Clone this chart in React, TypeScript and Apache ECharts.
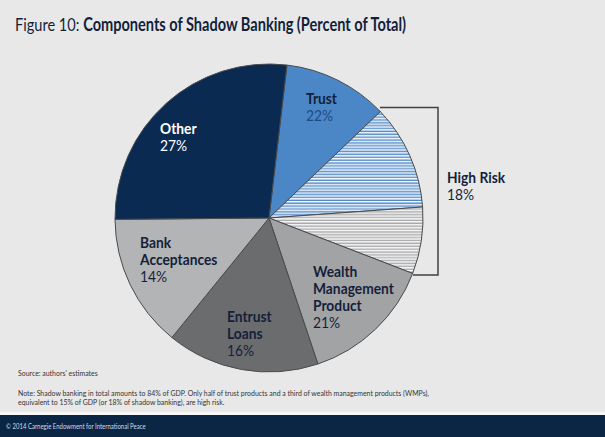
import React, { useEffect, useRef } from "react";
import * as echarts from "echarts";

// ---- data ----
const categories = ["Trust", "Wealth Management Product", "Entrust Loans", "Bank Acceptances", "Other"];
const shares = [22, 21, 16, 14, 27];
// high-risk part of Trust (half) and of WMP (a third)
const highRiskParts = [11, 7];
const highRiskTotal = 18;
const titleLead = "Figure 10: ";
const titleMain = "Components of Shadow Banking (Percent of Total)";
const sourceText = "Source: authors' estimates";
const noteLines = [
  "Note: Shadow banking in total amounts to 84% of GDP. Only half of trust products and a third of wealth management products (WMPs),",
  "equivalent to 15% of GDP (or 18% of shadow banking), are high risk.",
];
const footerText = "\u00a9 2014 Carnegie Endowment for International Peace";

// ---- styles ----
const BG = "#e8e8e8";
const NAVY = "#0b2a52";
const TEXT = "#141f3a";
const colors: Record<string, string> = {
  Trust: "#4b86c7",
  "Wealth Management Product": "#a2a3a5",
  "Entrust Loans": "#6b6c6e",
  "Bank Acceptances": "#b3b4b6",
  Other: NAVY,
};
const labelLines: Record<string, string[]> = {
  Trust: ["Trust"],
  "Wealth Management Product": ["Wealth", "Management", "Product"],
  "Entrust Loans": ["Entrust", "Loans"],
  "Bank Acceptances": ["Bank", "Acceptances"],
  Other: ["Other"],
};
const labelPos: Record<string, [number, number]> = {
  Trust: [306, 90],
  "Wealth Management Product": [313, 263],
  "Entrust Loans": [227, 308],
  "Bank Acceptances": [140, 234],
  Other: [160, 120],
};
const pctColor: Record<string, string> = {
  Trust: "#1d4a86",
  "Wealth Management Product": TEXT,
  "Entrust Loans": TEXT,
  "Bank Acceptances": TEXT,
  Other: "#ffffff",
};
const nameColor: Record<string, string> = {
  Trust: TEXT,
  "Wealth Management Product": TEXT,
  "Entrust Loans": TEXT,
  "Bank Acceptances": TEXT,
  Other: "#ffffff",
};

function stripePattern(color: string): any {
  const c = document.createElement("canvas");
  c.width = 4;
  c.height = 30;
  const ctx = c.getContext("2d")!;
  ctx.fillStyle = color;
  ctx.fillRect(0, 0, 4, 30);
  ctx.fillStyle = "#ffffff";
  for (let k = 0; k < 7; k++) ctx.fillRect(0, (k * 30) / 7, 4, 2.2);
  return {
    type: "pattern",
    image: c.toDataURL(),
    repeat: "repeat",
    imageWidth: 4,
    imageHeight: 30,
    scaleX: 0.67,
    scaleY: 0.67,
  };
}

export default function App() {
  const ref = useRef<HTMLDivElement>(null);
  useEffect(() => {
    document.body.style.margin = "0";
    if (!ref.current) return;
    const chart = echarts.init(ref.current, null, { renderer: "svg" });

    const [trust, wmp, entrust, bank, other] = categories;
    const val = (c: string) => shares[categories.indexOf(c)];
    const border = { borderColor: "#4a4b4d", borderWidth: 1 };
    const pieData = [
      { name: trust + " (other)", value: val(trust) - highRiskParts[0], itemStyle: { color: colors[trust], ...border } },
      { name: trust + " (high risk)", value: highRiskParts[0], itemStyle: { color: stripePattern(colors[trust]), ...border } },
      { name: wmp + " (high risk)", value: highRiskParts[1], itemStyle: { color: stripePattern(colors[wmp]), ...border } },
      { name: wmp + " (other)", value: val(wmp) - highRiskParts[1], itemStyle: { color: colors[wmp], ...border } },
      { name: entrust, value: val(entrust), itemStyle: { color: colors[entrust], ...border } },
      { name: bank, value: val(bank), itemStyle: { color: colors[bank], ...border } },
      { name: other, value: val(other), itemStyle: { color: colors[other], ...border } },
    ];

    const FONT = "Lato";
    const labelGraphics: any[] = categories.map((c, i) => {
      const [x, y] = labelPos[c];
      const lines = labelLines[c].map((l) => `{b|${l}}`).join("\n");
      return {
        type: "text",
        x,
        y,
        z: 100,
        scaleX: 0.92,
        style: {
          text: `${lines}\n{p|${shares[i]}%}`,
          fontFamily: FONT,
          rich: {
            b: { fontSize: 15, fontWeight: "bold", fill: nameColor[c], color: nameColor[c], lineHeight: 17, fontFamily: FONT },
            p: { fontSize: 15, fontWeight: "normal", fill: pctColor[c], color: pctColor[c], lineHeight: 17, fontFamily: FONT },
          },
        },
      };
    });

    chart.setOption({
      animation: false,
      backgroundColor: BG,
      series: [
        {
          type: "pie",
          center: [269, 218],
          radius: [0, 154],
          startAngle: 83.3,
          clockwise: true,
          label: { show: false },
          labelLine: { show: false },
          emphasis: { disabled: true },
          silent: true,
          data: pieData,
        },
      ],
      graphic: [
        {
          type: "text",
          x: 15,
          y: 15,
          z: 100,
          scaleX: 0.81,
          style: {
            text: `{r|${titleLead}}{b|${titleMain}}`,
            rich: {
              r: { fontSize: 18, fontFamily: FONT, fontWeight: "normal", fill: TEXT, color: TEXT },
              b: { fontSize: 18, fontFamily: FONT, fontWeight: "bold", fill: TEXT, color: TEXT },
            },
          },
        },
        ...labelGraphics,
        {
          type: "polyline",
          z: 100,
          shape: { points: [[380, 107.5], [438, 107.5], [438, 275], [413, 275]] },
          style: { stroke: "#3e4043", lineWidth: 1.5, fill: "none" },
        },
        {
          type: "text",
          x: 447,
          y: 169,
          z: 100,
          scaleX: 0.92,
          style: {
            text: `{b|High Risk}\n{p|${highRiskTotal}%}`,
            rich: {
              b: { fontSize: 15, fontWeight: "bold", fill: TEXT, color: TEXT, lineHeight: 17, fontFamily: FONT },
              p: { fontSize: 15, fontWeight: "normal", fill: TEXT, color: TEXT, lineHeight: 17, fontFamily: FONT },
            },
          },
        },
        {
          type: "text",
          x: 18,
          y: 368,
          z: 100,
          scaleX: 0.815,
          style: { text: sourceText, fontSize: 8.5, fontFamily: FONT, fill: "#333" },
        },
        ...noteLines.map((t, i) => ({
          type: "text",
          x: 18,
          y: 388 + i * 9.5,
          z: 100,
          scaleX: 0.815,
          style: { text: t, fontSize: 8.5, fontFamily: FONT, fill: "#333" },
        })),
        { type: "rect", z: 100, shape: { x: 0, y: 412, width: 605, height: 3 }, style: { fill: "#f7f7f7" } },
        { type: "rect", z: 100, shape: { x: 0, y: 415, width: 605, height: 22 }, style: { fill: "#0b2545" } },
        {
          type: "text",
          x: 6,
          y: 422,
          z: 101,
          scaleX: 0.8,
          style: { text: footerText, fontSize: 7.5, fontFamily: FONT, fill: "#d5dbe5" },
        },
      ],
    });
    return () => chart.dispose();
  }, []);
  return <div ref={ref} style={{ width: 605, height: 437 }} />;
}
